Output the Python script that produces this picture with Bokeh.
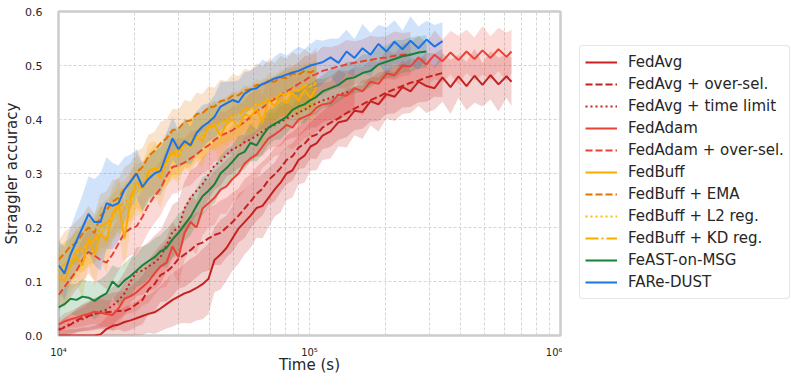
from bokeh.plotting import figure
from bokeh.layouts import row
from bokeh.models import (ColumnDataSource, Range1d, FixedTicker, Legend, LegendItem,
                          NumeralTickFormatter)
from bokeh.embed import file_html
from bokeh.resources import INLINE

# ---------------- data ----------------
TIME_S = [10000, 10566, 11164, 11796, 12463, 13168, 13913, 14700, 15532, 16411, 17339, 18320,
          19360, 20455, 21612, 22835, 24127, 25493, 26935, 28459, 30070, 31771, 33569, 35468,
          37475, 39596, 41836, 44204, 46705, 49348, 52140, 55091, 58208, 61502, 64982, 68660,
          72545, 76650, 80988, 85570, 90413, 95530, 100930, 106640, 112680, 121260, 130490,
          140430, 151120, 162640, 175000, 188320, 202670, 218100, 234700, 252570, 271810,
          292500, 314770, 338740, 364530, 392280, 422150, 454290, 488890, 526130, 566200,
          609310, 637990]

FEDAVG = [0.0, 0.0, 0.0, 0.0, 0.0, 0.0, 0.0, 0.002, 0.012, 0.018, 0.02, 0.025, 0.028, 0.032,
          0.036, 0.04, 0.043, 0.05, 0.058, 0.066, 0.072, 0.078, 0.082, 0.088, 0.095, 0.105,
          0.14, 0.15, 0.162, 0.18, 0.198, 0.21, 0.222, 0.236, 0.24, 0.255, 0.27, 0.283, 0.30,
          0.306, 0.325, 0.333, 0.35, 0.356, 0.37, 0.378, 0.395, 0.398, 0.416, 0.414, 0.434,
          0.428, 0.447, 0.442, 0.46, 0.452, 0.47, 0.462, 0.458, 0.478, 0.46, 0.48, 0.462,
          0.481, 0.464, 0.482, 0.465, 0.48, 0.47]
FEDAVG_SPREAD = [0.01, 0.01, 0.012, 0.012, 0.015, 0.015, 0.018, 0.02, 0.022, 0.025,
                 0.025, 0.028, 0.03, 0.032, 0.035, 0.035, 0.04, 0.042, 0.045, 0.05,
                 0.05, 0.055, 0.06, 0.06, 0.065, 0.065, 0.06, 0.065, 0.06, 0.06,
                 0.065, 0.06, 0.06, 0.055, 0.06, 0.055, 0.05, 0.055, 0.05, 0.05,
                 0.045, 0.05, 0.045, 0.05, 0.045, 0.05, 0.045, 0.05, 0.045, 0.05,
                 0.045, 0.05, 0.045, 0.045, 0.05, 0.04, 0.045, 0.05, 0.04, 0.045,
                 0.05, 0.04, 0.045, 0.05, 0.04, 0.045, 0.05, 0.04, 0.045]

FEDAVG_OVERSEL = [0.01, 0.015, 0.02, 0.028, 0.033, 0.036, 0.04, 0.042, 0.043, 0.044, 0.046,
                  0.045, 0.05, 0.058, 0.066, 0.085, 0.095, 0.112, 0.118, 0.128, 0.142, 0.15,
                  0.158, 0.168, 0.172, 0.18, 0.186, 0.19, 0.2, 0.21, 0.222, 0.235, 0.248,
                  0.262, 0.272, 0.288, 0.298, 0.31, 0.325, 0.332, 0.348, 0.355, 0.368, 0.372,
                  0.385, 0.394, 0.402, 0.412, 0.42, 0.428, 0.436, 0.442, 0.45, 0.456, 0.462,
                  0.468, 0.472, 0.478, 0.482, 0.486]
FEDAVG_OVERSEL_SPREAD = [0.015, 0.018, 0.02, 0.022, 0.025, 0.028, 0.03, 0.03, 0.032, 0.035,
                         0.035, 0.038, 0.04, 0.042, 0.045, 0.045, 0.05, 0.05, 0.055, 0.055,
                         0.055, 0.06, 0.06, 0.06, 0.055, 0.06, 0.055, 0.06, 0.055, 0.055,
                         0.05, 0.055, 0.05, 0.05, 0.05, 0.045, 0.05, 0.045, 0.045, 0.045,
                         0.04, 0.045, 0.04, 0.045, 0.04, 0.045, 0.04, 0.045, 0.04, 0.045,
                         0.04, 0.045, 0.04, 0.045, 0.04, 0.045, 0.04, 0.045, 0.04, 0.045]

FEDAVG_TIMELIMIT = [0.012, 0.016, 0.022, 0.026, 0.03, 0.035, 0.04, 0.044, 0.048, 0.055, 0.065,
                    0.078, 0.1, 0.118, 0.12, 0.128, 0.135, 0.145, 0.168, 0.192, 0.2, 0.235,
                    0.255, 0.268, 0.28, 0.298, 0.315, 0.322, 0.335, 0.345, 0.35, 0.358, 0.363,
                    0.37, 0.378, 0.385, 0.39, 0.395, 0.402, 0.406, 0.413, 0.418, 0.425, 0.43,
                    0.435, 0.44, 0.446, 0.45, 0.455]
FEDAVG_TIMELIMIT_SPREAD = [0.012, 0.015, 0.018, 0.02, 0.022, 0.025, 0.028, 0.03, 0.032, 0.035,
                           0.035, 0.04, 0.04, 0.045, 0.045, 0.045, 0.05, 0.05, 0.05, 0.05,
                           0.05, 0.05, 0.05, 0.045, 0.05, 0.045, 0.045, 0.045, 0.04, 0.045,
                           0.04, 0.045, 0.04, 0.04, 0.045, 0.04, 0.04, 0.045, 0.04, 0.04,
                           0.045, 0.04, 0.04, 0.045, 0.04, 0.04, 0.045, 0.04, 0.04]

FEDADAM = [0.02, 0.026, 0.03, 0.033, 0.037, 0.04, 0.044, 0.042, 0.04, 0.038, 0.05, 0.068, 0.073,
           0.08, 0.09, 0.1, 0.115, 0.128, 0.135, 0.165, 0.145, 0.19, 0.21, 0.2, 0.235, 0.245,
           0.255, 0.27, 0.276, 0.29, 0.30, 0.318, 0.328, 0.335, 0.35, 0.365, 0.372, 0.38, 0.39,
           0.385, 0.4, 0.405, 0.41, 0.422, 0.428, 0.43, 0.446, 0.444, 0.458, 0.452, 0.47,
           0.466, 0.485, 0.482, 0.5, 0.498, 0.515, 0.502, 0.52, 0.508, 0.524, 0.51, 0.526,
           0.512, 0.528, 0.514, 0.53, 0.516, 0.526]
FEDADAM_SPREAD = [0.012, 0.015, 0.015, 0.018, 0.02, 0.02, 0.022, 0.025, 0.025, 0.028, 0.03,
                  0.03, 0.032, 0.035, 0.035, 0.04, 0.04, 0.04, 0.045, 0.045, 0.05, 0.05, 0.05,
                  0.05, 0.05, 0.045, 0.05, 0.045, 0.05, 0.045, 0.045, 0.05, 0.045, 0.045,
                  0.04, 0.045, 0.04, 0.045, 0.04, 0.04, 0.045, 0.04, 0.04, 0.045, 0.04, 0.04,
                  0.045, 0.04, 0.04, 0.045, 0.04, 0.04, 0.045, 0.04, 0.04, 0.045, 0.04, 0.04,
                  0.045, 0.04, 0.04, 0.045, 0.04, 0.04, 0.045, 0.04, 0.04, 0.045, 0.04]

FEDADAM_OVERSEL = [0.075, 0.09, 0.105, 0.12, 0.14, 0.155, 0.148, 0.14, 0.135, 0.15, 0.17, 0.19,
                   0.198, 0.202, 0.22, 0.242, 0.258, 0.272, 0.295, 0.312, 0.315, 0.32, 0.328,
                   0.335, 0.345, 0.352, 0.362, 0.37, 0.375, 0.38, 0.388, 0.395, 0.405, 0.415,
                   0.422, 0.43, 0.438, 0.445, 0.452, 0.458, 0.466, 0.472, 0.48, 0.484, 0.49,
                   0.494, 0.498, 0.502, 0.505, 0.508, 0.51, 0.513, 0.515, 0.518, 0.52, 0.522]
FEDADAM_OVERSEL_SPREAD = [0.03, 0.03, 0.035, 0.035, 0.04, 0.04, 0.045, 0.045, 0.05, 0.05,
                          0.05, 0.05, 0.05, 0.05, 0.05, 0.05, 0.05, 0.05, 0.05, 0.05,
                          0.05, 0.045, 0.05, 0.045, 0.045, 0.045, 0.04, 0.045, 0.04, 0.045,
                          0.04, 0.04, 0.045, 0.04, 0.04, 0.045, 0.04, 0.04, 0.045, 0.04,
                          0.04, 0.045, 0.04, 0.04, 0.045, 0.04, 0.04, 0.045, 0.04, 0.04,
                          0.045, 0.04, 0.04, 0.045, 0.04, 0.04]

FEDBUFF = [0.11, 0.10, 0.13, 0.145, 0.13, 0.18, 0.15, 0.19, 0.175, 0.225, 0.245, 0.18, 0.25,
           0.285, 0.27, 0.305, 0.31, 0.29, 0.325, 0.34, 0.33, 0.357, 0.35, 0.368, 0.36, 0.387,
           0.39, 0.37, 0.392, 0.40, 0.385, 0.41, 0.405, 0.42, 0.395, 0.435, 0.425, 0.44, 0.43,
           0.45, 0.435, 0.455, 0.44, 0.46]
FEDBUFF_SPREAD = [0.04, 0.05, 0.05, 0.05, 0.06, 0.05, 0.06, 0.05, 0.06, 0.05, 0.05, 0.06,
                  0.05, 0.05, 0.045, 0.05, 0.05, 0.055, 0.05, 0.045, 0.05, 0.045, 0.05,
                  0.045, 0.05, 0.04, 0.045, 0.05, 0.045, 0.04, 0.05, 0.045, 0.04, 0.045,
                  0.05, 0.04, 0.045, 0.04, 0.045, 0.04, 0.045, 0.04, 0.045, 0.04]

FEDBUFF_EMA = [0.14, 0.152, 0.165, 0.172, 0.188, 0.2, 0.19, 0.222, 0.232, 0.248, 0.255, 0.272,
               0.284, 0.302, 0.312, 0.332, 0.342, 0.356, 0.365, 0.38, 0.383, 0.396, 0.398, 0.41,
               0.412, 0.422, 0.424, 0.434, 0.436, 0.444, 0.445, 0.454, 0.456, 0.464, 0.463,
               0.472, 0.47, 0.478, 0.477, 0.485, 0.483, 0.49, 0.487, 0.493]
FEDBUFF_EMA_SPREAD = [0.035, 0.04, 0.035, 0.04, 0.035, 0.04, 0.035, 0.04, 0.035, 0.04, 0.035,
                      0.04, 0.035, 0.04, 0.035, 0.04, 0.035, 0.04, 0.035, 0.04, 0.035, 0.04,
                      0.035, 0.04, 0.035, 0.04, 0.035, 0.04, 0.035, 0.04, 0.035, 0.04, 0.035,
                      0.04, 0.035, 0.04, 0.035, 0.04, 0.035, 0.04, 0.035, 0.04, 0.035, 0.04]

FEDBUFF_L2 = [0.12, 0.128, 0.14, 0.152, 0.158, 0.172, 0.175, 0.192, 0.198, 0.218, 0.228, 0.236,
              0.25, 0.266, 0.268, 0.292, 0.298, 0.306, 0.318, 0.332, 0.334, 0.352, 0.353, 0.366,
              0.368, 0.382, 0.386, 0.394, 0.398, 0.407, 0.408, 0.42, 0.418, 0.43, 0.428, 0.44,
              0.438, 0.448, 0.447, 0.456, 0.455, 0.464, 0.462, 0.47]
FEDBUFF_L2_SPREAD = [0.04, 0.045, 0.04, 0.045, 0.04, 0.045, 0.04, 0.045, 0.04, 0.045, 0.04,
                     0.045, 0.04, 0.045, 0.04, 0.045, 0.04, 0.045, 0.04, 0.045, 0.04, 0.045,
                     0.04, 0.045, 0.04, 0.045, 0.04, 0.045, 0.04, 0.045, 0.04, 0.045, 0.04,
                     0.045, 0.04, 0.045, 0.04, 0.045, 0.04, 0.045, 0.04, 0.045, 0.04, 0.045]

FEDBUFF_KD = [0.12, 0.132, 0.135, 0.157, 0.163, 0.172, 0.178, 0.202, 0.208, 0.222, 0.238, 0.246,
              0.258, 0.277, 0.278, 0.297, 0.308, 0.312, 0.323, 0.337, 0.343, 0.352, 0.358, 0.37,
              0.37, 0.384, 0.388, 0.395, 0.398, 0.41, 0.408, 0.42, 0.418, 0.427, 0.43, 0.437,
              0.438, 0.447, 0.446, 0.454, 0.453, 0.462, 0.46, 0.467]
FEDBUFF_KD_SPREAD = [0.045, 0.04, 0.045, 0.04, 0.045, 0.04, 0.045, 0.04, 0.045, 0.04, 0.045,
                     0.04, 0.045, 0.04, 0.045, 0.04, 0.045, 0.04, 0.045, 0.04, 0.045, 0.04,
                     0.045, 0.04, 0.045, 0.04, 0.045, 0.04, 0.045, 0.04, 0.045, 0.04, 0.045,
                     0.04, 0.045, 0.04, 0.045, 0.04, 0.045, 0.04, 0.045, 0.04, 0.045, 0.04]

FEAST = [0.052, 0.058, 0.068, 0.066, 0.072, 0.07, 0.064, 0.072, 0.078, 0.10, 0.09, 0.102, 0.11,
         0.12, 0.13, 0.138, 0.145, 0.156, 0.162, 0.178, 0.19, 0.205, 0.22, 0.24, 0.258, 0.268,
         0.28, 0.30, 0.31, 0.322, 0.335, 0.34, 0.357, 0.352, 0.37, 0.385, 0.392, 0.398, 0.405,
         0.418, 0.424, 0.428, 0.436, 0.442, 0.452, 0.458, 0.464, 0.475, 0.478, 0.486, 0.49,
         0.502, 0.507, 0.512, 0.517, 0.52, 0.524, 0.526]
FEAST_SPREAD = [0.025, 0.03, 0.028, 0.03, 0.032, 0.03, 0.035, 0.032, 0.035, 0.03, 0.035, 0.032,
                0.035, 0.03, 0.035, 0.032, 0.035, 0.03, 0.035, 0.032, 0.035, 0.03, 0.035,
                0.032, 0.035, 0.03, 0.035, 0.032, 0.035, 0.03, 0.035, 0.032, 0.035, 0.03,
                0.035, 0.032, 0.03, 0.035, 0.03, 0.032, 0.03, 0.035, 0.03, 0.032, 0.03, 0.035,
                0.03, 0.032, 0.03, 0.035, 0.03, 0.032, 0.03, 0.035, 0.03, 0.032, 0.03, 0.03]

FAREDUST = [0.13, 0.115, 0.15, 0.175, 0.20, 0.225, 0.21, 0.21, 0.245, 0.24, 0.245, 0.27, 0.285,
            0.30, 0.275, 0.29, 0.30, 0.305, 0.335, 0.365, 0.345, 0.36, 0.352, 0.375, 0.387,
            0.395, 0.405, 0.424, 0.43, 0.436, 0.432, 0.448, 0.455, 0.458, 0.466, 0.47, 0.476,
            0.479, 0.483, 0.487, 0.49, 0.495, 0.5, 0.503, 0.506, 0.515, 0.505, 0.526, 0.514,
            0.532, 0.52, 0.54, 0.526, 0.544, 0.53, 0.546, 0.532, 0.548, 0.535, 0.545]
FAREDUST_SPREAD = [0.045, 0.05, 0.05, 0.055, 0.06, 0.07, 0.08, 0.09, 0.085, 0.08, 0.07, 0.06,
                   0.05, 0.045, 0.045, 0.04, 0.04, 0.045, 0.04, 0.04, 0.035, 0.04, 0.035, 0.04,
                   0.04, 0.035, 0.04, 0.045, 0.04, 0.035, 0.04, 0.04, 0.035, 0.04, 0.045,
                   0.035, 0.04, 0.045, 0.035, 0.04, 0.045, 0.035, 0.04, 0.045, 0.04, 0.035,
                   0.045, 0.04, 0.035, 0.045, 0.04, 0.035, 0.045, 0.04, 0.035, 0.045, 0.04,
                   0.035, 0.04, 0.035]

LABELS = ["FedAvg", "FedAvg + over-sel.", "FedAvg + time limit", "FedAdam",
          "FedAdam + over-sel.", "FedBuff", "FedBuff + EMA", "FedBuff + L2 reg.",
          "FedBuff + KD reg.", "FeAST-on-MSG", "FARe-DUST"]
VALUES = [FEDAVG, FEDAVG_OVERSEL, FEDAVG_TIMELIMIT, FEDADAM, FEDADAM_OVERSEL, FEDBUFF,
          FEDBUFF_EMA, FEDBUFF_L2, FEDBUFF_KD, FEAST, FAREDUST]
SPREADS = [FEDAVG_SPREAD, FEDAVG_OVERSEL_SPREAD, FEDAVG_TIMELIMIT_SPREAD, FEDADAM_SPREAD,
           FEDADAM_OVERSEL_SPREAD, FEDBUFF_SPREAD, FEDBUFF_EMA_SPREAD, FEDBUFF_L2_SPREAD,
           FEDBUFF_KD_SPREAD, FEAST_SPREAD, FAREDUST_SPREAD]

X_TICKS = [10000, 100000, 1000000]
X_TICK_LABELS = ["10\u2074", "10\u2075", "10\u2076"]
X_MINOR = [20000, 30000, 40000, 50000, 60000, 70000, 80000, 90000,
           200000, 300000, 400000, 500000, 600000, 700000, 800000, 900000]
Y_TICKS = [0.0, 0.1, 0.2, 0.3, 0.4, 0.5, 0.6]

# ---------------- styles ----------------
COLORS = ["#c5221f", "#c5221f", "#c5221f", "#ea4335", "#ea4335", "#f9ab00", "#e37400",
          "#fbbc04", "#f9ab00", "#188038", "#1a73e8"]
DASHES = ["solid", "7 3", "2 3", "solid", "7 3", "solid", "7 3", "2 3", "13 3 2 3",
          "solid", "solid"]
FONT = "DejaVu Sans"
TEXT = "#262626"
GRID = "#d4d4d4"
BORDER_TOP, BORDER_BOTTOM = 11, 41

p = figure(width=562, height=376, x_axis_type="log",
           x_range=Range1d(1e4, 1e6), y_range=Range1d(0, 0.6),
           output_backend="svg", toolbar_location=None,
           min_border_left=58, min_border_right=2,
           min_border_top=BORDER_TOP, min_border_bottom=BORDER_BOTTOM,
           x_axis_label="Time (s)", y_axis_label="Straggler accuracy")
p.background_fill_color = "white"
p.border_fill_color = "white"
p.outline_line_color = "#cccccc"
p.outline_line_width = 2.5

sources = []
for ys, sp in zip(VALUES, SPREADS):
    n = min(len(ys), len(sp), len(TIME_S))
    sources.append(ColumnDataSource(dict(
        x=TIME_S[:n], y=ys[:n],
        lo=[a - b for a, b in zip(ys[:n], sp[:n])],
        hi=[a + b for a, b in zip(ys[:n], sp[:n])])))

# shaded bands first, then all lines on top
for src, col in zip(sources, COLORS):
    p.varea(x="x", y1="lo", y2="hi", source=src, fill_color=col, fill_alpha=0.2)
for src, col, dash in zip(sources, COLORS, DASHES):
    p.line(x="x", y="y", source=src, line_color=col, line_width=2, line_dash=dash)

# axes
p.xaxis.ticker = FixedTicker(ticks=X_TICKS, minor_ticks=X_MINOR)
p.xaxis.major_label_overrides = {t: l for t, l in zip(X_TICKS, X_TICK_LABELS)}
p.yaxis.ticker = FixedTicker(ticks=Y_TICKS)
p.yaxis.formatter = NumeralTickFormatter(format="0.0")

for ax in (p.xaxis, p.yaxis):
    ax.axis_line_color = None
    ax.major_tick_line_color = None
    ax.minor_tick_line_color = None
    ax.major_tick_out = 0
    ax.major_tick_in = 0
    ax.minor_tick_out = 0
    ax.minor_tick_in = 0
    ax.major_label_text_font = FONT
    ax.major_label_text_color = TEXT
    ax.axis_label_text_font = FONT
    ax.axis_label_text_font_size = "15px"
    ax.axis_label_text_font_style = "normal"
    ax.axis_label_text_color = TEXT

p.xaxis.major_label_text_font_size = "10px"
p.yaxis.major_label_text_font_size = "11px"
p.xaxis.major_label_standoff = 11
p.xaxis.axis_label_standoff = -5
p.yaxis.major_label_standoff = 16
p.yaxis.axis_label_standoff = 1

# grid
for g in (p.xgrid, p.ygrid):
    g.grid_line_color = GRID
    g.grid_line_dash = "3 2"
    g.grid_line_width = 1
p.xgrid.minor_grid_line_color = GRID
p.xgrid.minor_grid_line_dash = "3 2"
p.xgrid.minor_grid_line_width = 1

# ---------------- legend panel (separate figure to the right) ----------------
leg = figure(width=232, height=376, x_range=Range1d(0, 1), y_range=Range1d(0, 1),
             output_backend="svg", toolbar_location=None,
             min_border_left=0, min_border_right=0,
             min_border_top=BORDER_TOP, min_border_bottom=BORDER_BOTTOM,
             x_axis_location=None, y_axis_location=None)
leg.outline_line_color = None
leg.background_fill_color = "white"
leg.border_fill_color = "white"
leg.xgrid.visible = False
leg.ygrid.visible = False

items = []
for lab, src, col, dash in zip(LABELS, sources, COLORS, DASHES):
    # same series, outside this panel's visible range: only the legend swatch shows
    r = leg.line(x="x", y="y", source=src, line_color=col, line_width=2, line_dash=dash)
    items.append(LegendItem(label=lab, renderers=[r]))

legend = Legend(items=items, location=(17, 36))
legend.label_text_font = FONT
legend.label_text_font_size = "15px"
legend.label_text_color = TEXT
legend.glyph_width = 32
legend.glyph_height = 22
legend.label_height = 22
legend.label_standoff = 11
legend.spacing = 0
legend.padding = 5
legend.margin = 0
legend.border_line_color = "#cccccc"
legend.border_line_width = 1.5
legend.background_fill_color = "white"
legend.background_fill_alpha = 1.0
try:
    legend.border_radius = 4
except Exception:
    pass
leg.add_layout(legend)

layout = row(p, leg)
open("out.html", "w").write(file_html(layout, INLINE))
